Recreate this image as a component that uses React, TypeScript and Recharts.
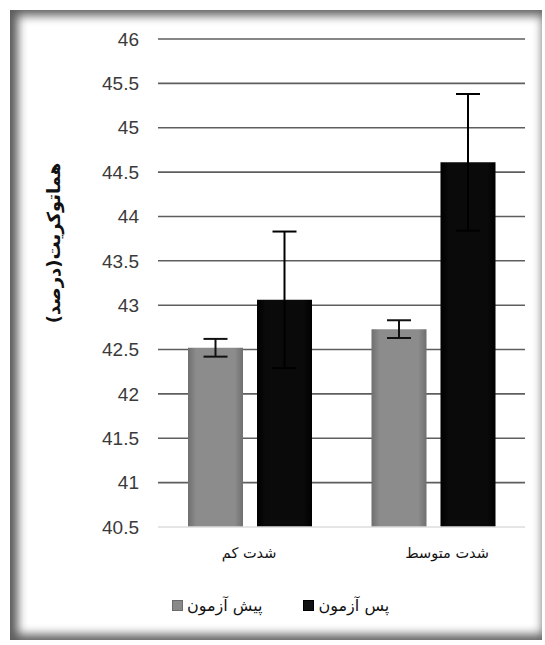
import { Bar, BarChart, CartesianGrid, ErrorBar, XAxis, YAxis } from "recharts";

// هماتوکریت before/after training at two intensities
const groups = ["شدت کم", "شدت متوسط"];
const preTest = [42.52, 42.73];
const postTest = [43.06, 44.61];
const preErr = [0.1, 0.1];
const postErr = [0.77, 0.77];
const yTicks = [40.5, 41, 41.5, 42, 42.5, 43, 43.5, 44, 44.5, 45, 45.5, 46];

const seriesNames = { pre: "پیش آزمون", post: "پس آزمون" };

const data = groups.map((group, i) => ({
  group,
  pre: preTest[i],
  post: postTest[i],
  preErr: preErr[i],
  postErr: postErr[i],
}));

const FONT = "'Liberation Sans', 'DejaVu Sans', sans-serif";
const FA_FONT = "'DejaVu Sans', sans-serif";

function AxisTitle() {
  return (
    <text
      x={60}
      y={243}
      transform="rotate(-90 60 243)"
      textAnchor="middle"
      fontFamily={FA_FONT}
      fontWeight="bold"
      fontSize={18}
      fill="#111"
      direction="rtl"
    >
      هماتوکریت(درصد)
    </text>
  );
}

// category names sit left-aligned a little before the group centre
function GroupTick({ x, y, payload }: any) {
  return (
    <text
      x={x - 28}
      y={y}
      dy="0.71em"
      textAnchor="start"
      fontFamily={FA_FONT}
      fontSize={14.5}
      fill="#111"
    >
      {payload.value}
    </text>
  );
}

function LegendRow() {
  const box = (fill: string, edge: string) => (
    <span
      style={{
        display: "inline-block",
        width: 9,
        height: 9,
        background: fill,
        border: `1px solid ${edge}`,
      }}
    />
  );
  return (
    <div
      style={{
        position: "absolute",
        left: 172,
        top: 596,
        display: "flex",
        alignItems: "center",
        fontFamily: FA_FONT,
        fontSize: 16,
        color: "#111",
      }}
    >
      {box("#8a8a8a", "#6a6a6a")}
      <span dir="rtl" style={{ marginLeft: 4 }}>{seriesNames.pre}</span>
      <span style={{ width: 40 }} />
      {box("#111", "#000")}
      <span dir="rtl" style={{ marginLeft: 5 }}>{seriesNames.post}</span>
    </div>
  );
}

export default function App() {
  return (
    <div
      style={{
        position: "absolute",
        left: 0,
        top: 0,
        width: 545,
        height: 645,
        overflow: "hidden",
        background: "#fff",
      }}
    >
      <div
        style={{
          position: "absolute",
          left: 10,
          top: 10,
          width: 532,
          height: 630,
          boxShadow:
            "inset 14px 0 10px -6px #5e5e5e, inset 0 12px 10px -6px #6a6a6a, inset 0 -12px 10px -6px #6a6a6a, inset -8px 0 8px -6px #b0b0b0",
        }}
      />
      <div style={{ position: "absolute", left: 0, top: 0 }}>
        <BarChart
          width={545}
          height={645}
          data={data}
          margin={{ top: 39, right: 20, bottom: 0, left: 0 }}
          barSize={55}
          barGap={14}
        >
          <defs>
            <linearGradient id="preFill" x1="0" y1="0" x2="1" y2="0">
              <stop offset="0" stopColor="#6f6f6f" />
              <stop offset="0.15" stopColor="#8c8c8c" />
              <stop offset="0.85" stopColor="#8c8c8c" />
              <stop offset="1" stopColor="#6f6f6f" />
            </linearGradient>
            <linearGradient id="postFill" x1="0" y1="0" x2="1" y2="0">
              <stop offset="0" stopColor="#000" />
              <stop offset="0.15" stopColor="#0a0a0a" />
              <stop offset="0.85" stopColor="#0a0a0a" />
              <stop offset="1" stopColor="#000" />
            </linearGradient>
          </defs>
          <CartesianGrid
            vertical={false}
            stroke="#5e5e5e"
            strokeWidth={1.6}
            horizontalValues={yTicks.slice(1)}
          />
          <XAxis
            dataKey="group"
            height={118}
            tickLine={false}
            axisLine={{ stroke: "#dcdcdc", strokeWidth: 1.5 }}
            tickMargin={15}
            tick={<GroupTick />}
          />
          <YAxis
            width={158}
            domain={[40.5, 46]}
            ticks={yTicks}
            allowDataOverflow
            axisLine={false}
            tickLine={false}
            tickMargin={13}
            tick={{ fontFamily: FONT, fontSize: 19, fill: "#3a3a3a" }}
            label={<AxisTitle />}
          />
          <Bar dataKey="pre" name={seriesNames.pre} fill="url(#preFill)" isAnimationActive={false}>
            <ErrorBar dataKey="preErr" direction="y" width={12} stroke="#111" strokeWidth={2} />
          </Bar>
          <Bar dataKey="post" name={seriesNames.post} fill="url(#postFill)" isAnimationActive={false}>
            <ErrorBar dataKey="postErr" direction="y" width={12} stroke="#000" strokeWidth={2} />
          </Bar>
        </BarChart>
      </div>
      <LegendRow />
    </div>
  );
}
